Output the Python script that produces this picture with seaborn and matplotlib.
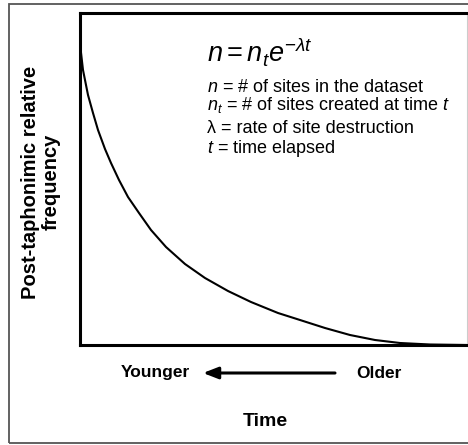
import matplotlib
matplotlib.use("Agg")
import matplotlib.pyplot as plt
import seaborn as sns
import pandas as pd
from matplotlib.patches import Rectangle

# Data (axis units: pixels from the axes origin)
age = [0.7, 3, 8, 13, 18, 25, 31, 39, 48, 59, 71, 86, 105, 125, 148, 171,
       198, 220, 245, 270, 295, 320, 350, 387]
frequency = [295, 275, 250, 232, 215, 196, 182, 165, 148, 132, 115, 98, 81,
             67, 54, 43, 32, 25, 17, 10, 5, 2, 0.5, 0]

y_label = "Post-taphonimic relative\nfrequency"
x_label = "Time"
left_word = "Younger"
right_word = "Older"
formula = r"$n = n_{t}e^{-\lambda t}$"
definitions = [
    r"$n$ = # of sites in the dataset",
    r"$n_{t}$ = # of sites created at time $t$",
    "\u03bb = rate of site destruction",
    r"$t$ = time elapsed",
]

sns.set_style("white")
plt.rcParams["font.family"] = ["Liberation Sans", "DejaVu Sans"]
plt.rcParams["mathtext.fontset"] = "custom"
plt.rcParams["mathtext.rm"] = "Liberation Sans"
plt.rcParams["mathtext.it"] = "Liberation Sans:italic"
plt.rcParams["mathtext.bf"] = "Liberation Sans:bold"
plt.rcParams["text.color"] = "black"

W, H = 468, 445
fig = plt.figure(figsize=(W / 100, H / 100), dpi=100)
ax = fig.add_axes([80 / W, 1 - 345 / H, (467 - 80) / W, (345 - 13) / H])

df = pd.DataFrame({"age": age, "frequency": frequency})
sns.lineplot(data=df, x="age", y="frequency", ax=ax, color="black", lw=1.5)
ax.set_xlim(0, 387)
ax.set_ylim(0, 332)
ax.set_xticks([])
ax.set_yticks([])
ax.set_xlabel("")
ax.set_ylabel("")
for s in ["top", "left", "bottom"]:
    ax.spines[s].set_color("black")
    ax.spines[s].set_linewidth(2.2)
ax.spines["right"].set_color("#cccccc")
ax.spines["right"].set_linewidth(0.8)

def fx(x):
    return x / W

def fy(y):
    return 1 - y / H

# outer frame
fig.patches.append(Rectangle((fx(8.5), fy(443)), 1.2, (443 - 3.5) / H,
                             transform=fig.transFigure, fill=False,
                             edgecolor="#555555", lw=1.3, clip_on=False))

fig.text(fx(207), fy(62), formula, fontsize=19.5, va="baseline", ha="left")
baselines = [92, 110, 133, 153]
for txt, b in zip(definitions, baselines):
    fig.text(fx(207), fy(b), txt, fontsize=13, va="baseline", ha="left")

fig.text(fx(41), fy(182), y_label, rotation=90, fontsize=14.5,
         fontweight="bold", ha="center", va="center", linespacing=1.1)

fig.text(fx(155), fy(373), left_word, fontsize=12.5, fontweight="bold",
         ha="center", va="center")
fig.text(fx(379), fy(373), right_word, fontsize=12.5, fontweight="bold",
         ha="center", va="center")
fig.text(fx(265), fy(421), x_label, fontsize=14, fontweight="bold",
         ha="center", va="center")

ax.annotate("", xy=(fx(203), fy(373)), xytext=(fx(335), fy(373)),
            xycoords="figure fraction", textcoords="figure fraction",
            arrowprops=dict(arrowstyle="-|>,head_length=0.9,head_width=0.35",
                            color="black", lw=2.2, shrinkA=0, shrinkB=0))

fig.savefig("out.png", dpi=100)
